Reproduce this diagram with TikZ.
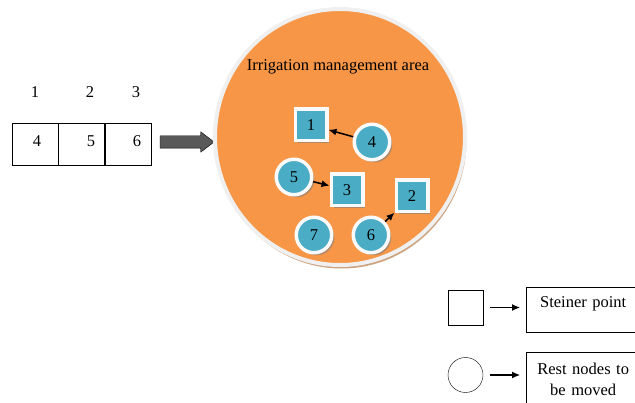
\documentclass[tikz,border=0pt]{standalone}
\usepackage{fontspec}
\setmainfont{Liberation Serif}
\usetikzlibrary{shapes}
\usetikzlibrary{shapes.arrows}
\usetikzlibrary{shadows}
\usetikzlibrary{positioning}
\usetikzlibrary{arrows.meta}
\definecolor{areaorange}{HTML}{F79646}
\definecolor{arearing}{HTML}{F0F0F0}
\definecolor{areashadow}{HTML}{C89870}
\definecolor{nodeblue}{HTML}{4BACC6}
\definecolor{flowgray}{HTML}{595959}
\tikzset{
    areanode/.style = {ellipse, line width=4pt, draw=arearing, fill=areaorange, minimum width=250pt, minimum height=256pt, inner sep=0pt, drop shadow={shadow xshift=1.5pt, shadow yshift=-3.5pt, fill=areashadow, opacity=.9}},
    stnode/.style = {rectangle, line width=3.5pt, draw=white!96!gray, fill=nodeblue, minimum size=31.5pt, inner sep=0pt, drop shadow={shadow xshift=2.5pt, shadow yshift=-2.5pt, fill=gray, opacity=.6}},
    rnode/.style = {circle, line width=3.5pt, draw=white!96!gray, fill=nodeblue, minimum size=35.5pt, inner sep=0pt, drop shadow={shadow xshift=2.5pt, shadow yshift=-2.5pt, fill=gray, opacity=.6}},
    cellbox/.style = {rectangle, draw=black, thin, minimum width=46pt, minimum height=42pt, inner sep=0pt},
    legsym/.style = {draw=black, thin, minimum size=35pt, inner sep=0pt},
    legbox/.style = {rectangle, draw=black, thin, anchor=north west, minimum width=114pt, text width=104pt, align=center},
    flowarrow/.style = {single arrow, draw=black, fill=flowgray, minimum height=54pt, single arrow head extend=4pt, single arrow tip angle=75, inner xsep=0pt, inner ysep=6pt, text height=0pt, text depth=0pt},
    edgea/.style = {-{Latex[length=8pt,width=7pt]}, line width=1.5pt, black},
    edgel/.style = {-{Latex[length=8pt,width=7pt]}, line width=1.1pt, black}
}
\begin{document}
\begin{tikzpicture}[x=1pt,y=-1pt,font=\fontsize{16.5}{18}\selectfont]
\useasboundingbox (0,0) rectangle (635,403);
% row of positions
\node at ( 35, 92) (i1) {1};
\node at ( 90, 92) (i2) {2};
\node at (136, 92) (i3) {3};
\node[cellbox] at ( 35,144) (c1) {};
\node[cellbox] at ( 81,144) (c2) {};
\node[cellbox] at (128,144) (c3) {};
\node at ( 37,141) (v1) {4};
\node at ( 91,141) (v2) {5};
\node at (137,141) (v3) {6};
\node[flowarrow] at (183,142) (flow) {};
% area
\node[areanode] at (340,137) (area) {};
\node at (338,67) (title) {Irrigation management area};
\node[stnode] at (311,125) (n1) {1};
\node[stnode] at (412,196) (n2) {2};
\node[stnode] at (347,190) (n3) {3};
\node[rnode] at (372,142) (n4) {4};
\node[rnode] at (294,177) (n5) {5};
\node[rnode] at (371,235) (n6) {6};
\node[rnode] at (314,235) (n7) {7};
\draw[edgea] (n4) -- (n1);
\draw[edgea] (n5) -- (n3);
\draw[edgea] (n6) -- (n2);
% legend
\node[legsym, rectangle] at (465.5,307.5) (legsq) {};
\node[legsym, circle] at (465.5,375) (legci) {};
\node[legbox, inner ysep=9.7pt, text depth=15pt] at (526,287) (steiner) {Steiner point};
\node[legbox, inner ysep=10.7pt, text depth=28pt, font=\fontsize{16.5}{21}\selectfont] at (526,352) (rest) {Rest nodes to\\be moved};
\draw[edgel] ([xshift=7pt]legsq.east) -- ([xshift=-6pt]legsq.east -| steiner.west);
\draw[edgel] ([xshift=7pt]legci.east) -- ([xshift=-6pt]legci.east -| rest.west);
\end{tikzpicture}
\end{document}
